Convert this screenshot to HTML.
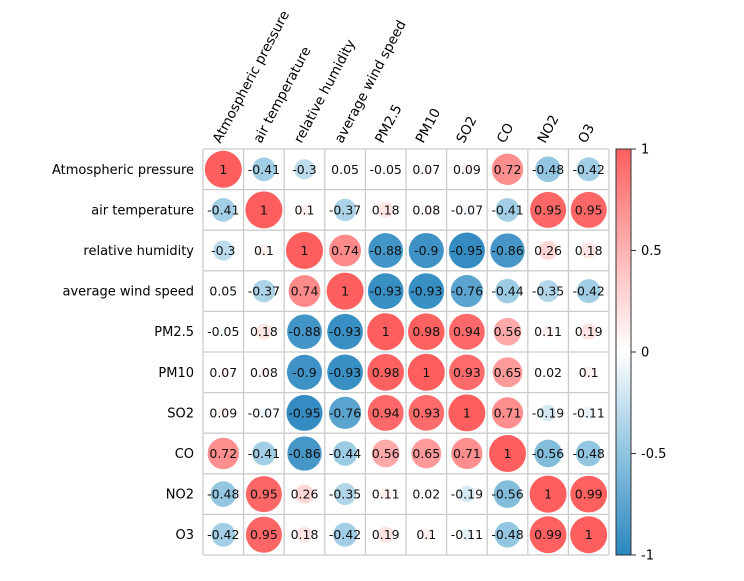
<!DOCTYPE html>
<html><head><meta charset="utf-8"><style>
body{margin:0;background:#fff;}
svg text{font-family:"DejaVu Sans","Liberation Sans",sans-serif;}
</style></head><body>
<svg id="chart" width="744" height="576" xmlns="http://www.w3.org/2000/svg">
<defs><linearGradient id="cbg" x1="0" y1="1" x2="0" y2="0">
<stop offset="0" stop-color="#2a86bf"/><stop offset="0.25" stop-color="#8fc4e0"/><stop offset="0.5" stop-color="#ffffff"/><stop offset="0.75" stop-color="#ffb3b3"/><stop offset="1" stop-color="#ff5e5e"/>
</linearGradient></defs>
<g id="grid"></g>
<g id="labels"></g>
<g id="colorbar"></g>
</svg>
<script>
const variables=["Atmospheric pressure","air temperature","relative humidity","average wind speed","PM2.5","PM10","SO2","CO","NO2","O3"];
const row0=[1,-0.41,-0.3,0.05,-0.05,0.07,0.09,0.72,-0.48,-0.42];
const row1=[-0.41,1,0.1,-0.37,0.18,0.08,-0.07,-0.41,0.95,0.95];
const row2=[-0.3,0.1,1,0.74,-0.88,-0.9,-0.95,-0.86,0.26,0.18];
const row3=[0.05,-0.37,0.74,1,-0.93,-0.93,-0.76,-0.44,-0.35,-0.42];
const row4=[-0.05,0.18,-0.88,-0.93,1,0.98,0.94,0.56,0.11,0.19];
const row5=[0.07,0.08,-0.9,-0.93,0.98,1,0.93,0.65,0.02,0.1];
const row6=[0.09,-0.07,-0.95,-0.76,0.94,0.93,1,0.71,-0.19,-0.11];
const row7=[0.72,-0.41,-0.86,-0.44,0.56,0.65,0.71,1,-0.56,-0.48];
const row8=[-0.48,0.95,0.26,-0.35,0.11,0.02,-0.19,-0.56,1,0.99];
const row9=[-0.42,0.95,0.18,-0.42,0.19,0.1,-0.11,-0.48,0.99,1];
const matrix=[row0,row1,row2,row3,row4,row5,row6,row7,row8,row9];
const cbTicks=[1,0.5,0,-0.5,-1];
const cbTickLabels=["1","0.5","0","-0.5","-1"];

const NS="http://www.w3.org/2000/svg";
const X0=203,Y0=149,X1=609,Y1=555;
const n=variables.length, cw=(X1-X0)/n, ch=(Y1-Y0)/n;
const xPos=i=>X0+cw*(i+0.5), yPos=j=>Y0+ch*(j+0.5);
const rScale=v=>Math.sqrt(Math.abs(v))*18.5;
const stops=[[-1,[42,134,191]],[-0.5,[143,196,224]],[0,[255,255,255]],[0.5,[255,179,179]],[1,[255,94,94]]];
function color(v){for(let k=0;k<stops.length-1;k++){const[a,ca]=stops[k],[b,cb]=stops[k+1];if(v<=b){const t=(v-a)/(b-a);return`rgb(${ca.map((c,i)=>Math.round(c+(cb[i]-c)*t)).join(",")})`;}}return"rgb(255,94,94)";}
function mk(tag,attrs,parent){const e=document.createElementNS(NS,tag);for(const k in attrs)e.setAttribute(k,attrs[k]);parent.appendChild(e);return e;}
const grid=document.getElementById("grid"),labels=document.getElementById("labels"),cbar=document.getElementById("colorbar");
matrix.forEach((row,j)=>row.forEach((v,i)=>{
  const c=mk("circle",{cx:xPos(i),cy:yPos(j),r:rScale(v),fill:color(v)},grid);
  
  
  const t=mk("text",{x:xPos(i),y:yPos(j)+4.5,"text-anchor":"middle","font-size":"12.5",fill:"#111"},grid);
  t.textContent=String(v);
  
  
}));
for(let k=0;k<=n;k++){
  mk("line",{x1:X0+cw*k,y1:Y0,x2:X0+cw*k,y2:Y1,stroke:"#cccccc","stroke-width":1.3},grid);
  mk("line",{x1:X0,y1:Y0+ch*k,x2:X1,y2:Y0+ch*k,stroke:"#cccccc","stroke-width":1.3},grid);
}
variables.forEach((name,k)=>{
  const r=mk("text",{x:194,y:yPos(k)+4.5,"text-anchor":"end","font-size":"13",fill:"#000"},labels);
  r.textContent=name;
  
  
  const cx=xPos(k)-3,cy=144;
  const c=mk("text",{x:cx,y:cy,"font-size":"13.5",fill:"#000",transform:`rotate(-62 ${cx} ${cy})`},labels);
  c.textContent=name;
  
  
});
const cbX=616,cbW=15;
const cbr=mk("rect",{x:cbX,y:Y0,width:cbW,height:Y1-Y0,fill:"url(#cbg)",stroke:"#333","stroke-width":1},cbar);


const cbY=v=>Y1-(v+1)/2*(Y1-Y0);
cbTicks.forEach((v,k)=>{
  mk("line",{x1:cbX+cbW,y1:cbY(v),x2:cbX+cbW+5,y2:cbY(v),stroke:"#333"},cbar);
  const t=mk("text",{x:cbX+cbW+10,y:cbY(v)+4.5,"font-size":"13",fill:"#000"},cbar);
  t.textContent=cbTickLabels[k];
  
  
});
</script>
</body></html>
